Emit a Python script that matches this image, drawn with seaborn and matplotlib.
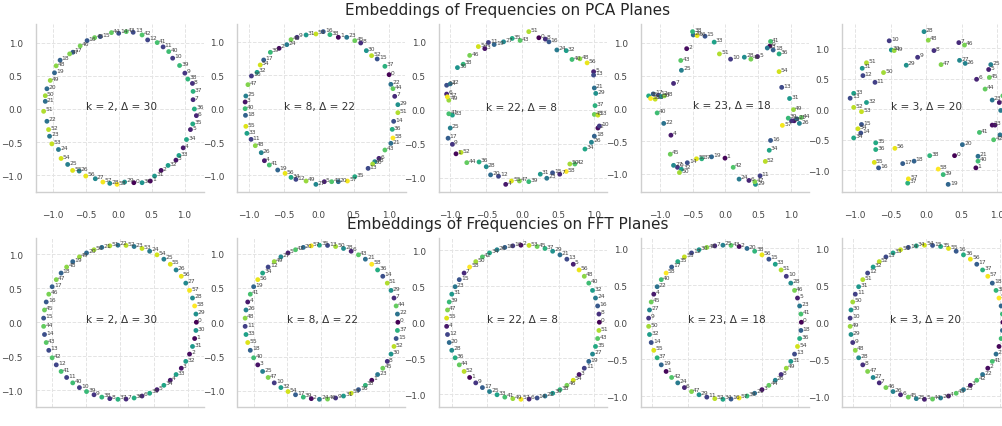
import numpy as np
import pandas as pd
import matplotlib
matplotlib.use("Agg")
import matplotlib.pyplot as plt
import seaborn as sns

# ---------------- data ----------------
P = 59
panel_k = [2, 8, 22, 23, 3]
panel_delta = [30, 22, 8, 18, 20]

# PCA planes: coordinates of labels 0..58
pca_k2_x = [0.23, 0.48, 0.645, 0.87, 0.98, 1.09, 1.18, 1.13, 1.12, 1.005,
            0.82, 0.675, 0.44, 0.22, 0.0, -0.28, -0.48, -0.695, -0.89, -0.975,
            -1.09, -1.115, -1.09, -1.05, -0.915, -0.775, -0.6, -0.355, -0.135, 0.09,
            0.355, 0.545, 0.75, 0.915, 1.03, 1.125, 1.15, 1.13, 1.05, 0.925,
            0.76, 0.585, 0.355, 0.115, -0.11, -0.365, -0.585, -0.745, -0.95, -1.04,
            -1.115, -1.14, -1.065, -1.015, -0.875, -0.70, -0.50, -0.24, -0.025]
pca_k2_y = [-1.11, -1.085, -0.925, -0.77, -0.585, -0.31, -0.10, 0.14, 0.385, 0.54,
            0.765, 0.935, 1.04, 1.155, 1.14, 1.09, 1.03, 0.855, 0.735, 0.545,
            0.305, 0.115, -0.185, -0.41, -0.61, -0.835, -0.935, -1.05, -1.12, -1.10,
            -1.11, -1.01, -0.85, -0.70, -0.46, -0.225, 0.0, 0.265, 0.45, 0.655,
            0.865, 1.0, 1.115, 1.165, 1.15, 1.075, 0.95, 0.83, 0.65, 0.43,
            0.20, -0.035, -0.31, -0.525, -0.745, -0.925, -1.01, -1.10, -1.135]

pca_k8_x = [1.005, 0.28, -0.565, -1.05, -0.775, 0.08, 0.86, 1.085, 0.60, -0.31,
            -0.96, -0.965, -0.325, 0.705, 1.07, 0.835, 0.065, -0.785, -1.045, -0.585,
            0.28, 1.03, 1.03, 0.40, -0.455, -1.04, -0.82, -0.04, 0.80, 1.13,
            0.68, -0.18, -0.88, -1.025, -0.395, 0.515, 1.05, 0.945, 0.16, -0.69,
            -1.05, -0.705, 0.185, 0.945, 1.06, 0.515, -0.395, -1.01, -0.905, -0.18,
            0.77, 1.13, 0.755, -0.04, -0.835, -1.04, -0.48, 0.41, 1.06]
pca_k8_y = [0.51, 1.07, 0.905, 0.10, -0.78, -1.095, -0.745, 0.185, 0.985, 1.07,
            0.49, -0.46, -1.06, -0.895, -0.19, 0.745, 1.155, 0.73, -0.10, -0.92,
            -1.095, -0.52, 0.365, 1.07, 0.96, 0.19, -0.66, -1.135, -0.795, 0.06,
            0.87, 1.105, 0.545, -0.37, -1.03, -1.02, -0.31, 0.635, 1.11, 0.845,
            0.0, -0.845, -1.095, -0.62, 0.30, 1.02, 1.035, 0.36, -0.555, -1.085,
            -0.83, -0.06, 0.795, 1.12, 0.655, -0.265, -0.97, -1.085, -0.44]

pca_k22_x = [0.23, -0.92, 1.05, -0.52, -0.23, 0.99, -1.05, 0.52, 0.32, -0.97,
             1.07, -0.47, -0.33, 0.99, -1.05, 0.42, 0.37, -1.03, 1.00, -0.39,
             -0.44, 1.00, -1.00, 0.34, 0.48, -1.00, 0.96, -0.26, -0.50, 1.02,
             -0.90, 0.25, 0.61, -0.97, 0.87, -0.14, -0.60, 1.01, -0.82, 0.09,
             0.69, -1.02, 0.73, -0.03, -0.77, 1.00, -0.73, -0.04, 0.80, -1.02,
             0.66, 0.09, -0.85, 1.05, -0.61, -0.15, 0.90, -1.04, 0.61]
pca_k22_y = [1.06, -0.65, -0.27, 0.90, -1.10, 0.56, 0.23, -0.95, 1.04, -0.51,
             -0.24, 0.99, -0.98, 0.51, 0.36, -0.93, 1.00, -0.42, -0.39, 0.96,
             -0.96, 0.32, 0.38, -1.01, 0.88, -0.27, -0.48, 1.00, -0.84, 0.24,
             0.62, -0.95, 0.87, -0.08, -0.58, 1.05, -0.77, 0.06, 0.67, -1.06,
             0.74, -0.06, -0.80, 1.02, -0.78, -0.07, 0.80, -1.05, 0.75, 0.14,
             -0.80, 1.15, -0.63, -0.08, 0.93, -1.05, 0.69, 0.19, -0.91]

pca_k23_x = [0.68, -0.005, -0.59, 1.05, -0.83, 0.49, 0.36, -0.79, 1.01, -0.73,
             0.08, 0.53, -1.02, 0.86, -0.58, -0.31, 0.69, -1.10, 0.73, -0.21,
             -0.49, 1.09, -0.94, 0.64, 0.21, -0.67, 1.13, -0.79, 0.29, 0.46,
             -0.98, 0.98, -0.67, -0.17, 0.67, -1.17, 0.82, -0.36, -0.50, 0.96,
             -1.04, 0.69, 0.12, -0.68, 1.16, -0.84, 0.39, 0.45, -0.93, 1.04,
             -0.70, -0.09, 0.61, -1.07, 0.82, -0.44, -0.43, 0.87, -1.14]
pca_k23_y = [0.95, -0.76, 0.91, -0.19, -0.41, 0.79, -1.10, 0.38, -0.19, -0.90,
             0.75, -1.03, 0.20, 0.32, -0.83, 1.10, -0.49, 0.22, 0.89, -0.74,
             1.12, -0.16, -0.23, 0.92, -1.08, 0.58, -0.23, -0.87, 0.78, -1.16,
             0.18, 0.15, -0.93, 1.01, -0.64, 0.19, 0.83, -0.77, 1.17, -0.15,
             -0.07, 1.02, -0.90, 0.73, -0.14, -0.70, 0.75, -1.12, 0.19, -0.02,
             -0.98, 0.83, -0.81, 0.14, 0.56, -0.77, 1.11, -0.26, 0.15]

pca_k3_x = [0.40, 0.70, 0.93, 0.97, 1.03, 0.88, 0.71, 0.46, 0.11, -0.12,
            -0.52, -0.72, -0.89, -1.07, -0.92, -0.91, -0.67, -0.33, -0.17, 0.31,
            0.51, 0.73, 1.04, 0.93, 1.05, 0.91, 0.55, 0.47, -0.03, -0.28,
            -0.49, -0.90, -0.84, -1.02, -1.02, -0.71, -0.71, -0.26, 0.05, 0.24,
            0.73, 0.75, 0.95, 1.08, 0.83, 0.89, 0.54, 0.21, 0.03, -0.45,
            -0.60, -0.84, -1.02, -0.91, -0.96, -0.73, -0.44, -0.25, 0.17]
pca_k3_y = [-0.76, -0.96, -0.26, -0.26, 0.11, 0.65, 0.49, 1.09, 0.96, 0.85,
            1.12, 0.44, 0.55, 0.18, -0.39, -0.25, -0.96, -0.89, -0.85, -1.23,
            -0.58, -0.77, -0.42, 0.15, -0.02, 0.73, 0.75, 0.80, 1.27, 0.72,
            0.97, 0.67, 0.11, 0.26, -0.47, -0.55, -0.66, -1.21, -0.76, -1.07,
            -0.85, -0.38, -0.50, 0.22, 0.33, 0.52, 1.05, 0.73, 1.13, 0.96,
            0.60, 0.76, 0.03, -0.04, -0.32, -0.87, -0.64, -1.14, -0.98]

# FFT planes: labels met going counter-clockwise round the ring from the +x axis
fft_k2_order = [0, 29, 58, 28, 57, 27, 56, 26, 55, 25, 54, 24, 53, 23, 52, 22, 51, 21, 50, 20,
                49, 19, 48, 18, 47, 17, 46, 16, 45, 15, 44, 14, 43, 13, 42, 12, 41, 11, 40, 10,
                39, 9, 38, 8, 37, 7, 36, 6, 35, 5, 34, 4, 33, 3, 32, 2, 31, 1, 30]
fft_k8_order = [0, 22, 44, 7, 29, 51, 14, 36, 58, 21, 43, 6, 28, 50, 13, 35, 57, 20, 42, 5,
                27, 49, 12, 34, 56, 19, 41, 4, 26, 48, 11, 33, 55, 18, 40, 3, 25, 47, 10, 32,
                54, 17, 39, 2, 24, 46, 9, 31, 53, 16, 38, 1, 23, 45, 8, 30, 52, 15, 37]
fft_k22_order = [0, 8, 16, 24, 32, 40, 48, 56, 5, 13, 21, 29, 37, 45, 53, 2, 10, 18, 26, 34,
                 42, 50, 58, 7, 15, 23, 31, 39, 47, 55, 4, 12, 20, 28, 36, 44, 52, 1, 9, 17,
                 25, 33, 41, 49, 57, 6, 14, 22, 30, 38, 46, 54, 3, 11, 19, 27, 35, 43, 51]
fft_k23_order = [0, 41, 23, 5, 46, 28, 10, 51, 33, 15, 56, 38, 20, 2, 43, 25, 7, 48, 30, 12,
                 53, 35, 17, 58, 40, 22, 4, 45, 27, 9, 50, 32, 14, 55, 37, 19, 1, 42, 24, 6,
                 47, 29, 11, 52, 34, 16, 57, 39, 21, 3, 44, 26, 8, 49, 31, 13, 54, 36, 18]
fft_k3_order = [0, 39, 19, 58, 38, 18, 57, 37, 17, 56, 36, 16, 55, 35, 15, 54, 34, 14, 53, 33,
                13, 52, 32, 12, 51, 31, 11, 50, 30, 10, 49, 29, 9, 48, 28, 8, 47, 27, 7, 46,
                26, 6, 45, 25, 5, 44, 24, 4, 43, 23, 3, 42, 22, 2, 41, 21, 1, 40, 20]
fft_radius = [1.13, 1.125, 1.07, 1.045, 1.045]

titles = ["Embeddings of Frequencies on PCA Planes",
          "Embeddings of Frequencies on FFT Planes"]

# ---------------- build tables ----------------
labels = list(range(P))
pca_frames = []
for xs, ys in [(pca_k2_x, pca_k2_y), (pca_k8_x, pca_k8_y), (pca_k22_x, pca_k22_y),
               (pca_k23_x, pca_k23_y), (pca_k3_x, pca_k3_y)]:
    pca_frames.append(pd.DataFrame({"x": xs, "y": ys, "label": labels}))

fft_frames = []
for order, r in zip([fft_k2_order, fft_k8_order, fft_k22_order, fft_k23_order, fft_k3_order],
                    fft_radius):
    ang = 2 * np.pi * np.arange(len(order)) / P
    df = pd.DataFrame({"x": r * np.cos(ang), "y": r * np.sin(ang), "label": order})
    fft_frames.append(df.sort_values("label").reset_index(drop=True))

# ---------------- style ----------------
sns.set_theme(style="whitegrid", rc={
    "grid.linestyle": "--",
    "grid.color": "#e4e4e4",
    "grid.linewidth": 0.7,
    "axes.edgecolor": "#cfcfcf",
    "axes.linewidth": 1.0,
    "xtick.labelsize": 6.4,
    "ytick.labelsize": 6.4,
    "xtick.color": "#444444",
    "ytick.color": "#444444",
})
plt.rcParams["font.family"] = ["DejaVu Sans"]

W, H = 1003, 427
fig = plt.figure(figsize=(W / 100, H / 100), dpi=100)
lefts = [36, 237.5, 439, 641, 842.5]
rows = [(25, 168), (238.5, 169.5)]
panel_w = 168

for r, frames in enumerate([pca_frames, fft_frames]):
    top, h = rows[r]
    for c, df in enumerate(frames):
        ax = fig.add_axes([lefts[c] / W, (H - top - h) / H, panel_w / W, h / H])
        sns.scatterplot(data=df, x="x", y="y", hue="label", palette="viridis",
                        hue_norm=(0, P - 1), s=12, linewidth=0, legend=False, ax=ax)
        for _, row in df.iterrows():
            ax.annotate(str(int(row["label"])), (row["x"], row["y"]),
                        xytext=(1.2, 0.6), textcoords="offset points",
                        fontsize=4.3, color="#444444")
        ax.text(-0.5, 0.0, f"k = {panel_k[c]}, \u0394 = {panel_delta[c]}",
                ha="left", va="baseline", fontsize=7.6, color="#333333")
        ax.set_xlabel("")
        ax.set_ylabel("")
        ax.tick_params(axis="x", pad=7)
        ax.tick_params(axis="y", pad=3.5)
        sns.despine(ax=ax)
    fig.text(507.5 / W, 1 - (15 if r == 0 else 229.3) / H, titles[r],
             ha="center", va="baseline", fontsize=11, color="#262626")

fig.savefig("out.png", dpi=100)
